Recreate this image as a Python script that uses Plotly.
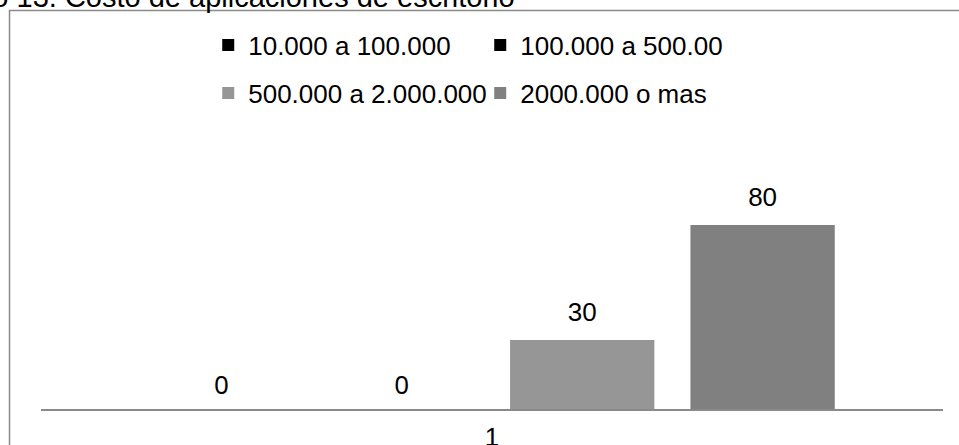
import plotly.graph_objects as go

# Data
categories = ["1"]
series_names = ["10.000 a 100.000", "100.000 a 500.00", "500.000 a 2.000.000", "2000.000 o mas"]
series_values = [[0], [0], [30], [80]]
series_colors = ["#000000", "#000000", "#969696", "#808080"]
label_fonts = ["Noto Sans", "Noto Sans", "Liberation Sans", "Liberation Sans"]
label_sizes = [26, 26, 26, 26]
label_pads = [12, 12, 18, 18]
legend_ids = ["legend", "legend", "legend2", "legend2"]
title_text = "Gráfico 13. Costo de aplicaciones de escritorio"

fig = go.Figure()

for i, name in enumerate(series_names):
    fig.add_trace(go.Bar(
        x=categories, y=series_values[i], name=name,
        marker=dict(color=series_colors[i], line=dict(width=0)),
        offsetgroup=str(i), legend=legend_ids[i], hoverinfo="skip",
    ))

# value labels, grouped the same way as the bars
for i, name in enumerate(series_names):
    fig.add_trace(go.Scatter(
        x=categories, y=series_values[i], mode="markers+text",
        text=[str(v) for v in series_values[i]], textposition="top center",
        textfont=dict(family=label_fonts[i], size=label_sizes[i], color="#000000"),
        marker=dict(size=label_pads[i], color="rgba(0,0,0,0)"),
        offsetgroup=str(i), orientation="v", showlegend=False,
        hoverinfo="skip", cliponaxis=False,
    ))

fig.update_layout(
    width=959, height=445,
    margin=dict(l=41, r=16, t=179, b=36, autoexpand=False),
    paper_bgcolor="white", plot_bgcolor="white",
    barmode="group", bargap=0.2, bargroupgap=0.2,
    scattermode="group", scattergap=0.2,
    font=dict(family="Liberation Sans, Arial, sans-serif", size=26, color="#000000"),
    xaxis=dict(type="category", showline=True, linecolor="#8a8a8a", linewidth=1.5,
               showgrid=False, ticks="", ticklabelstandoff=4,
               tickfont=dict(size=26)),
    yaxis=dict(range=[0, 100], visible=False, showgrid=False, zeroline=False),
    legend=dict(orientation="h", x=0.1854, xanchor="left", y=1.582, yanchor="middle",
                entrywidth=227, bgcolor="rgba(0,0,0,0)", font=dict(size=26)),
    legend2=dict(orientation="h", x=0.1854, xanchor="left", y=1.374, yanchor="middle",
                 entrywidth=227, bgcolor="rgba(0,0,0,0)", font=dict(size=26)),
    annotations=[dict(text=title_text, xref="paper", yref="paper",
                      x=(517 - 41) / 902, xanchor="right", y=1.713, yanchor="bottom",
                      showarrow=False, font=dict(size=29, color="#000000"))],
    shapes=[dict(type="rect", xref="paper", yref="paper",
                 x0=-0.0349, x1=1.5, y0=-0.8, y1=1.7326,
                 line=dict(color="#8a8a8a", width=1.5), fillcolor="rgba(0,0,0,0)",
                 layer="below")],
)

fig.write_html("out.html")
